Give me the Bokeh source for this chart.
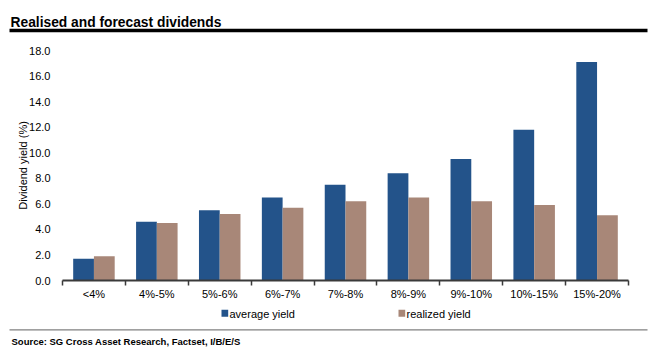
import numpy as np
from bokeh.plotting import figure
from bokeh.models import (FixedTicker, Label, BoxAnnotation, PrintfTickFormatter, Range1d,
                          ColumnDataSource)
from bokeh.embed import file_html
from bokeh.resources import INLINE

categories = ["<4%", "4%-5%", "5%-6%", "6%-7%", "7%-8%", "8%-9%", "9%-10%", "10%-15%", "15%-20%"]
average_yield = [1.7, 4.6, 5.5, 6.5, 7.5, 8.4, 9.5, 11.8, 17.1]
realized_yield = [1.9, 4.5, 5.2, 5.7, 6.2, 6.5, 6.2, 5.9, 5.1]
y_ticks = [0, 2, 4, 6, 8, 10, 12, 14, 16, 18]
series_names = ["average yield", "realized yield"]

BLUE = "#23538a"
BROWN = "#a88778"
FONT = "Liberation Sans"
W = 660


def blank(h):
    f = figure(width=W, height=h, output_backend="svg", toolbar_location=None,
               x_axis_type=None, y_axis_type=None, x_range=Range1d(0, 1), y_range=Range1d(0, 1),
               min_border=0, min_border_left=0, min_border_right=0,
               min_border_top=0, min_border_bottom=0)
    f.outline_line_color = None
    f.xgrid.visible = False
    f.ygrid.visible = False
    return f


def box(fig, left, right, bottom, top, color):
    fig.add_layout(BoxAnnotation(left=left, right=right, bottom=bottom, top=top,
                                 left_units="screen", right_units="screen",
                                 bottom_units="screen", top_units="screen",
                                 fill_color=color, fill_alpha=1, line_color=None, line_alpha=0))


# ---- header: title + black rule
top_h = 34
top = blank(top_h)
top.add_layout(Label(x=10, y=top_h - 22.3, x_units="screen", y_units="screen",
                     text="Realised and forecast dividends", text_font=FONT,
                     text_font_size="13.8px", text_font_style="bold", text_color="black",
                     text_baseline="alphabetic"))
box(top, 9, 647, top_h - 31.7, top_h - 28.3, "black")

# ---- main chart
n = len(categories)
centers = np.arange(n) + 0.5
bw = 0.33
src = ColumnDataSource(dict(
    xa=centers - bw / 2, xr=centers + bw / 2,
    avg=average_yield, real=realized_yield, cat=categories))

main_h = 271
p = figure(output_backend="svg", toolbar_location=None,
           x_range=Range1d(0, n), y_range=Range1d(0, 18),
           frame_width=566, frame_height=230,
           min_border_left=62, min_border_right=32, min_border_top=16,
           min_border_bottom=main_h - 16 - 230)
p.outline_line_color = None
p.xgrid.visible = False
p.ygrid.visible = False

p.vbar(x="xa", top="avg", width=bw, source=src, fill_color=BLUE, line_color=None)
p.vbar(x="xr", top="real", width=bw, source=src, fill_color=BROWN, line_color=None)

# x axis: labels at category centres, ticks at category boundaries
p.xaxis.ticker = FixedTicker(ticks=list(centers), minor_ticks=list(range(n + 1)))
p.xaxis.major_label_overrides = {float(c): cat for c, cat in zip(centers, categories)}
p.xaxis.major_tick_line_color = None
p.xaxis.major_tick_out = 0
p.xaxis.major_tick_in = 0
p.xaxis.minor_tick_out = 5
p.xaxis.minor_tick_in = 0
p.xaxis.minor_tick_line_color = "#3a3a3a"
p.xaxis.minor_tick_line_width = 1.5
p.xaxis.axis_line_color = "#3a3a3a"
p.xaxis.axis_line_width = 2
p.xaxis.major_label_standoff = 2
p.xaxis.major_label_text_font = FONT
p.xaxis.major_label_text_font_size = "11px"
p.xaxis.major_label_text_color = "black"

# y axis
p.yaxis.ticker = FixedTicker(ticks=y_ticks)
p.yaxis.formatter = PrintfTickFormatter(format="%.1f")
p.yaxis.axis_line_color = None
p.yaxis.major_tick_line_color = None
p.yaxis.minor_tick_line_color = None
p.yaxis.major_tick_out = 0
p.yaxis.major_tick_in = 0
p.yaxis.major_label_standoff = 12
p.yaxis.major_label_text_font = FONT
p.yaxis.major_label_text_font_size = "11px"
p.yaxis.major_label_text_color = "black"
p.yaxis.axis_label = "Dividend yield (%)"
p.yaxis.axis_label_standoff = -3
p.yaxis.axis_label_text_font = FONT
p.yaxis.axis_label_text_font_size = "11px"
p.yaxis.axis_label_text_font_style = "normal"
p.yaxis.axis_label_text_color = "black"

# ---- footer: legend keys, grey rule, source
bot_h = 52
bot = blank(bot_h)
key_x = [221, 398]
for kx, name, col in zip(key_x, series_names, [BLUE, BROWN]):
    box(bot, kx, kx + 6.7, bot_h - 11.3, bot_h - 4.3, col)
    bot.add_layout(Label(x=kx + 8, y=bot_h - 8.3, x_units="screen", y_units="screen",
                         text=name, text_font=FONT, text_font_size="11px",
                         text_color="black", text_baseline="middle"))
box(bot, 9, 647, bot_h - 25, bot_h - 23.7, "#808080")
bot.add_layout(Label(x=11, y=bot_h - 36.3, x_units="screen", y_units="screen",
                     text="Source: SG Cross Asset Research, Factset, I/B/E/S", text_font=FONT,
                     text_font_size="9.5px", text_font_style="bold", text_color="black",
                     text_baseline="alphabetic"))

open("out.html", "w").write(file_html([top, p, bot], INLINE))
